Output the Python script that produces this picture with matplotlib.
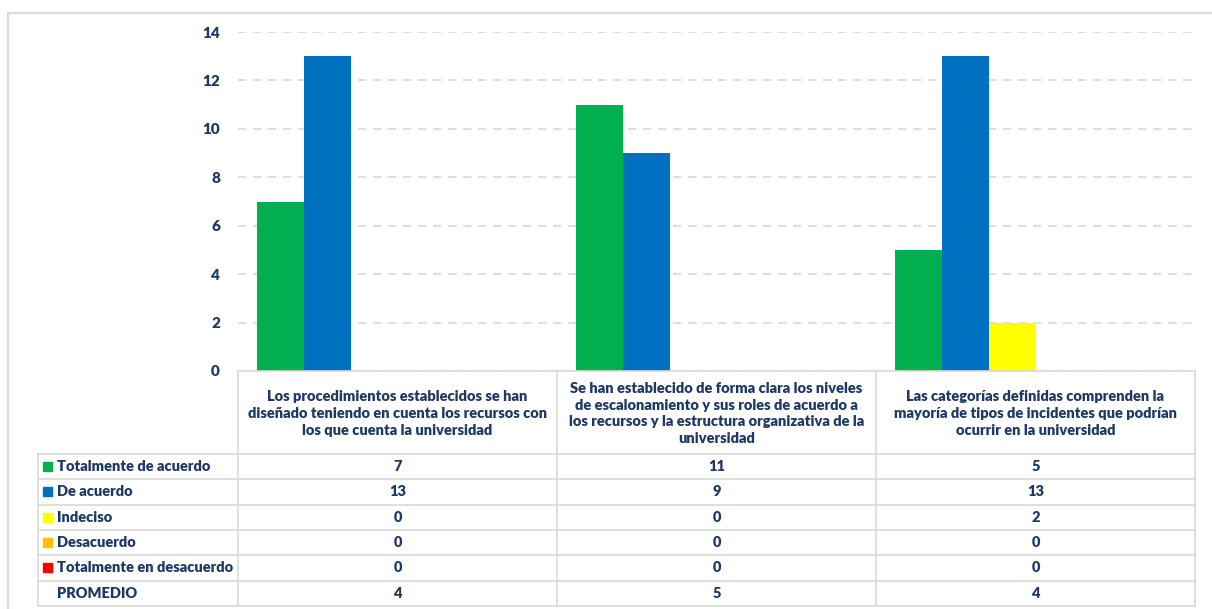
import numpy as np
import matplotlib.pyplot as plt

categories = [
    "Los procedimientos establecidos se han\ndiseñado teniendo en cuenta los recursos con\nlos que cuenta la universidad",
    "Se han establecido de forma clara los niveles\nde escalonamiento y sus roles de acuerdo a\nlos recursos y la estructura organizativa de la\nuniversidad",
    "Las categorías definidas comprenden la\nmayoría de tipos de incidentes que podrían\nocurrir en la universidad",
]
series_names = ["Totalmente de acuerdo", "De acuerdo", "Indeciso",
                "Desacuerdo", "Totalmente en desacuerdo", "PROMEDIO"]
totalmente_de_acuerdo = [7, 11, 5]
de_acuerdo = [13, 9, 13]
indeciso = [0, 0, 2]
desacuerdo = [0, 0, 0]
totalmente_en_desacuerdo = [0, 0, 0]
promedio = [4, 5, 4]
series_values = [totalmente_de_acuerdo, de_acuerdo, indeciso,
                 desacuerdo, totalmente_en_desacuerdo, promedio]
series_colors = ["#00B050", "#0070C0", "#FFFF00", "#FFC000", "#FF0000", None]
y_ticks = [0, 2, 4, 6, 8, 10, 12, 14]

W, H = 1212, 609
TEXT = "#1F3864"
GRID = "#D9D9D9"
WEIGHT = "heavy"
FS = 10.5
plt.rcParams['font.family'] = ['Lato', 'DejaVu Sans']

fig = plt.figure(figsize=(W / 100, H / 100), dpi=100)


def fx(px):
    return px / W


def fy(py):
    return 1 - py / H


# pixel layout of the chart
x_left, x_right = 238, 1195
y_top, y_zero = 32, 371
table_left = 38
header_bottom = 454
row_h = 25.3

ax = fig.add_axes([fx(x_left), fy(y_zero), fx(x_right) - fx(x_left), fy(y_top) - fy(y_zero)])
x = np.arange(len(categories))
n = len(series_names)
bw = 47 / 319
for i, (vals, col) in enumerate(zip(series_values, series_colors)):
    offs = (i - (n - 1) / 2) * bw
    if col is None:
        # PROMEDIO has no fill in the chart, only in the table
        ax.bar(x + offs, vals, bw, color="none", edgecolor="none")
    else:
        ax.bar(x + offs, vals, bw, color=col, edgecolor="none", zorder=3)
ax.set_xlim(-0.5, len(categories) - 0.5)
ax.set_ylim(0, 14)
ax.set_yticks(y_ticks)
ax.set_yticklabels([str(t) for t in y_ticks], color=TEXT, fontweight=WEIGHT, fontsize=11)
ax.tick_params(axis="y", length=0, pad=13)
ax.set_xticks([])
for s in ax.spines.values():
    s.set_visible(False)
ax.yaxis.grid(True, color=GRID, linestyle=(0, (5, 4)), linewidth=1.2)
ax.set_axisbelow(True)

# data table drawn on an overlay axes in pixel units
tb = fig.add_axes([0, 0, 1, 1])
tb.set_xlim(0, W)
tb.set_ylim(H, 0)
tb.axis("off")

col_edges = [x_left + k * (x_right - x_left) / len(categories) for k in range(len(categories) + 1)]
row_edges = [header_bottom + k * row_h for k in range(n + 1)]

# outer chart border (top and left visible)
tb.plot([8, W], [12.5, 12.5], color=GRID, lw=1.5)
tb.plot([8, 8], [12.5, H], color=GRID, lw=1.5)

# header cells
tb.plot([x_left, x_right], [y_zero, y_zero], color=GRID, lw=1.2)
for ce in col_edges:
    tb.plot([ce, ce], [y_zero, row_edges[-1]], color=GRID, lw=1.2)
for re in row_edges:
    tb.plot([table_left, x_right], [re, re], color=GRID, lw=1.2)
tb.plot([table_left, table_left], [header_bottom, row_edges[-1]], color=GRID, lw=1.2)

for j, cat in enumerate(categories):
    cx = (col_edges[j] + col_edges[j + 1]) / 2
    tb.text(cx, (y_zero + header_bottom) / 2 + 1, cat, ha="center", va="center",
            color=TEXT, fontsize=FS, fontweight=WEIGHT, linespacing=1.32)

for i, (name, vals, col) in enumerate(zip(series_names, series_values, series_colors)):
    cy = (row_edges[i] + row_edges[i + 1]) / 2
    if col is not None:
        tb.add_patch(plt.Rectangle((43, cy - 4.5), 9, 9, color=col))
    tb.text(57, cy, name, ha="left", va="center", color=TEXT,
            fontsize=FS, fontweight=WEIGHT)
    for j, v in enumerate(vals):
        cx = (col_edges[j] + col_edges[j + 1]) / 2
        tb.text(cx, cy, str(v), ha="center", va="center", color=TEXT,
                fontsize=FS, fontweight=WEIGHT)

fig.savefig("out.png", dpi=100, facecolor="white")
